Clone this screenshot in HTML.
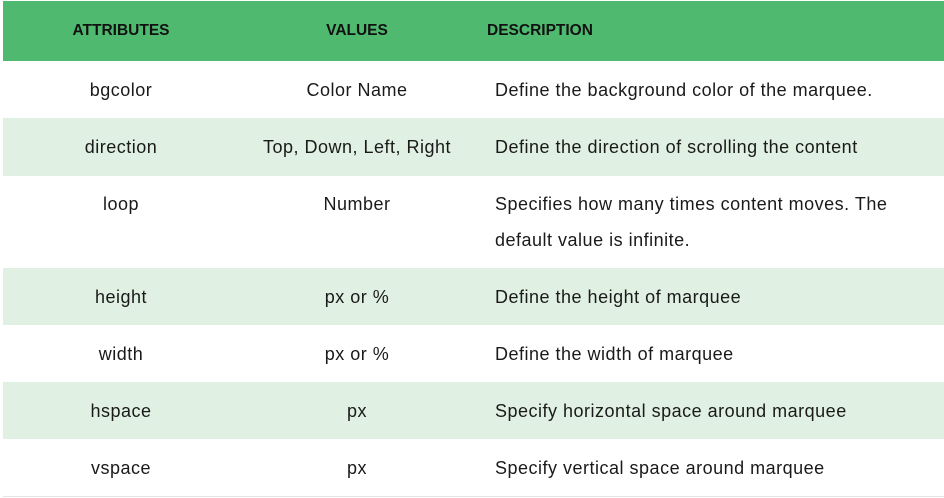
<!DOCTYPE html>
<html><head><style>
body{margin:0;width:944px;height:498px;background:#fff;position:relative;overflow:hidden;font-family:"Liberation Sans",sans-serif;color:#1a1a1a;font-size:18px;letter-spacing:0.5px}
.r{position:absolute;left:3px;width:941px}
.t{position:absolute;line-height:20px;white-space:nowrap}
.c1{left:21px;width:200px;text-align:center}
.c2{left:257px;width:200px;text-align:center}
.c3{left:495px}
.h{font-weight:bold;font-size:15.5px;color:#111;letter-spacing:0}
</style></head><body>
<div class="r" style="top:1px;height:60px;background:#4fba6f"></div>
<div class="r" style="top:118px;height:58px;background:#e0f0e2"></div>
<div class="r" style="top:268px;height:57px;background:#e0f0e2"></div>
<div class="r" style="top:382px;height:57px;background:#e0f0e2"></div>
<div class="r" style="top:496px;height:1px;background:#e4e4e4"></div>

<div class="t h c1" style="top:21px">ATTRIBUTES</div>
<div class="t h c2" style="top:21px">VALUES</div>
<div class="t h" style="top:21px;left:487px">DESCRIPTION</div>

<div class="t c1" style="top:80px">bgcolor</div>
<div class="t c2" style="top:80px">Color Name</div>
<div class="t c3" style="top:80px">Define the background color of the marquee.</div>

<div class="t c1" style="top:137px">direction</div>
<div class="t c2" style="top:137px">Top, Down, Left, Right</div>
<div class="t c3" style="top:137px">Define the direction of scrolling the content</div>

<div class="t c1" style="top:194px">loop</div>
<div class="t c2" style="top:194px">Number</div>
<div class="t c3" style="top:194px">Specifies how many times content moves. The</div>
<div class="t c3" style="top:230px">default value is infinite.</div>

<div class="t c1" style="top:287px">height</div>
<div class="t c2" style="top:287px">px or %</div>
<div class="t c3" style="top:287px">Define the height of marquee</div>

<div class="t c1" style="top:344px">width</div>
<div class="t c2" style="top:344px">px or %</div>
<div class="t c3" style="top:344px">Define the width of marquee</div>

<div class="t c1" style="top:401px">hspace</div>
<div class="t c2" style="top:401px">px</div>
<div class="t c3" style="top:401px">Specify horizontal space around marquee</div>

<div class="t c1" style="top:458px">vspace</div>
<div class="t c2" style="top:458px">px</div>
<div class="t c3" style="top:458px">Specify vertical space around marquee</div>
</body></html>
